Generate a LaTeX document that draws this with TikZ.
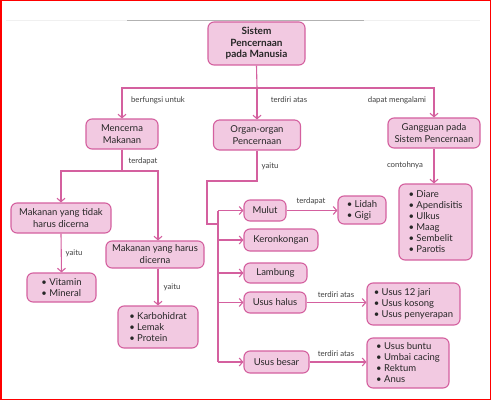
\documentclass[tikz,border=0pt]{standalone}
\usepackage{fontspec}
\setmainfont{Lato}
\usetikzlibrary{arrows.meta}
\definecolor{boxfill}{HTML}{F2C9E1}
\definecolor{boxline}{HTML}{D4609F}
\tikzset{
 box/.style={draw=boxline, fill=boxfill, line width=1.1pt, rounded corners=6pt, inner sep=2pt, align=center, font=\fontsize{9.5}{12}\selectfont, text=black!85},
 lst/.style={box, align=left, font=\fontsize{9.5}{11}\selectfont},
 conn/.style={draw=boxline, line width=1.1pt},
 arr/.style={conn, -{Straight Barb[length=3.5pt,width=8pt]}},
 lbl/.style={font=\fontsize{7.8}{9}\selectfont, text=black!75, inner sep=1pt},
}
\newcommand{\bul}{\textbullet\ }
\begin{document}
\begin{tikzpicture}[x=1pt,y=-1pt]
\useasboundingbox (0,0) rectangle (492,401);
\fill[white] (0,0) rectangle (492,401);
\draw[red, line width=1.5pt] (0.75,0.75) rectangle (490.5,399.5);
\draw[gray!12, line width=1pt] (6,20.5) -- (480,20.5);
\draw[gray!60, line width=1.3pt] (127,20.5) -- (364,20.5);

% nodes
\node[box, font=\bfseries\fontsize{10}{11.5}\selectfont, minimum width=97pt, minimum height=43pt] (top) at (256.5,43.5) {Sistem\\Pencernaan\\pada Manusia};
\node[box, minimum width=72pt, minimum height=30pt] (mak) at (122,134) {Mencerna\\Makanan};
\node[box, minimum width=87pt, minimum height=30pt] (org) at (257,135) {Organ-organ\\Pencernaan};
\node[box, minimum width=92pt, minimum height=30pt] (gang) at (434,133) {Gangguan pada\\Sistem Pencernaan};
\node[box, minimum width=100pt, minimum height=30pt] (tidak) at (61,218) {Makanan yang tidak\\harus dicerna};
\node[box, minimum width=98pt, minimum height=27pt] (harus) at (155,254.5) {Makanan yang harus\\dicerna};
\node[lst, minimum width=69pt, minimum height=29pt] (vit) at (61.5,287.5) {\bul Vitamin\\\bul Mineral};
\node[lst, minimum width=80pt, minimum height=42pt] (karbo) at (158,327) {\bul Karbohidrat\\\bul Lemak\\\bul Protein};
\node[box, minimum width=42pt, minimum height=21pt] (mulut) at (265,210.5) {Mulut};
\node[box, minimum width=74pt, minimum height=22pt] (keron) at (281,240) {Keronkongan};
\node[box, minimum width=63pt, minimum height=20pt] (lamb) at (275.5,273) {Lambung};
\node[box, minimum width=62pt, minimum height=21pt] (halus) at (275,302.5) {Usus halus};
\node[box, minimum width=65pt, minimum height=22pt] (besar) at (276.5,362) {Usus besar};
\node[lst, minimum width=48pt, minimum height=28pt] (lidah) at (362,210) {\bul Lidah\\\bul Gigi};
\node[lst, minimum width=73pt, minimum height=76pt] (diare) at (435.5,222) {\bul Diare\\\bul Apendisitis\\\bul Ulkus\\\bul Maag\\\bul Sembelit\\\bul Parotis};
\node[lst, minimum width=93pt, minimum height=42pt] (u12) at (413.5,304) {\bul Usus 12 jari\\\bul Usus kosong\\\bul Usus penyerapan};
\node[lst, minimum width=82pt, minimum height=50pt] (buntu) at (408,363) {\bul Usus buntu\\\bul Umbai cacing\\\bul Rektum\\\bul Anus};

% level 1
\coordinate (b1) at (257,88);
\draw[conn] (top.south) -- (b1);
\draw[arr] (b1) -- (org.north);
\draw[arr] (b1) -| (mak.north);
\draw[arr] (b1) -| (gang.north);
\node[lbl] (l1) at (158,100) {berfungsi untuk};
\node[lbl] (l2) at (289,100) {terdiri atas};
\node[lbl] (l3) at (397,100) {dapat mengalami};

% Mencerna
\coordinate (b2) at (122,171);
\draw[conn] (mak.south) -- (b2);
\draw[arr] (b2) -| (tidak.north);
\draw[arr] (b2) -| (karbo.north |- b2) -- (karbo.north |- harus.north);
\node[lbl] (l4) at (143,161) {terdapat};
\draw[arr] (tidak.south) -- (vit.north);
\node[lbl] (l5) at (74,253) {yaitu};
\draw[arr] (harus.south -| karbo.north) -- (karbo.north);
\node[lbl] (l6) at (172,287) {yaitu};

% Organ
\coordinate (c1) at (257,181);
\coordinate (c2) at (207,181);
\coordinate (c3) at (207,224);
\coordinate (bus) at (218,224);
\draw[conn] (org.south) -- (c1) -- (c2) -- (c3) -- (bus);
\draw[conn] (bus |- mulut) -- (bus |- besar);
\draw[arr] (bus |- mulut) -- (mulut.west);
\draw[arr] (bus |- keron) -- (keron.west);
\draw[arr] (bus |- lamb) -- (lamb.west);
\draw[arr] (bus |- halus) -- (halus.west);
\draw[arr] (bus |- besar) -- (besar.west);
\node[lbl] (l7) at (270,166) {yaitu};

\draw[arr] (mulut.east) -- (mulut.east -| lidah.west);
\node[lbl] (l8) at (311,201) {terdapat};
\draw[arr] (halus.east) -- (halus.east -| u12.west);
\node[lbl] (l9) at (336,295) {terdiri atas};
\draw[arr] (besar.east) -- (besar.east -| buntu.west);
\node[lbl] (l10) at (336,354) {terdiri atas};

% Gangguan
\draw[arr] (gang.south) -- (gang.south |- diare.north);
\node[lbl] (l11) at (405,165) {contohnya};
\end{tikzpicture}
\end{document}
